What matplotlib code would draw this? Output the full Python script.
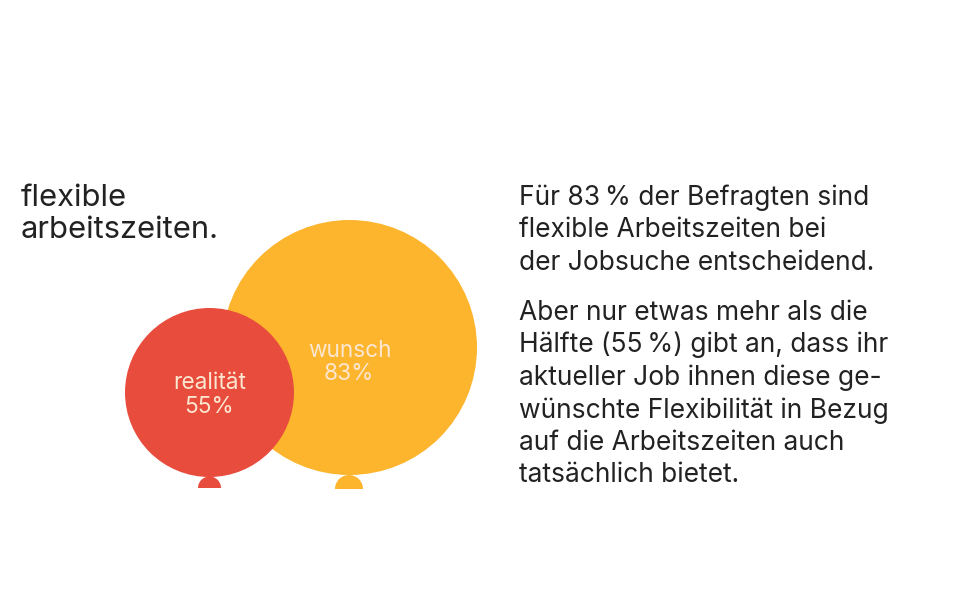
#!/usr/bin/env python3
"""Balloon chart: flexible Arbeitszeiten, wunsch vs realitaet."""
import matplotlib
matplotlib.use("Agg")
import matplotlib.pyplot as plt
from matplotlib.patches import Circle, Wedge

labels = ["wunsch", "realität"]
values = [83, 55]
colors = ["#FDB52E", "#E84C3D"]
# circle centres / radii in pixels, areas roughly follow the values
centers = [(349.5, 347.5), (209.5, 392.5)]
radii = [127.5, 84.5]
knots = [(349, 489, 14), (209.5, 488, 11.5)]
label_y = [(351, 374), (383, 407)]

title_lines = ["flexible", "arbeitszeiten."]
para1 = ["Für 83\u2009% der Befragten sind", "flexible Arbeitszeiten bei", "der Jobsuche entscheidend."]
para2 = ["Aber nur etwas mehr als die", "Hälfte (55\u2009%) gibt an, dass ihr", "aktueller Job ihnen diese ge-",
         "wünschte Flexibilität in Bezug", "auf die Arbeitszeiten auch", "tatsächlich bietet."]

plt.rcParams["font.family"] = ["Inter", "DejaVu Sans"]
fig = plt.figure(figsize=(9.6, 6.07), dpi=100)
ax = fig.add_axes([0, 0, 1, 1])
ax.set_xlim(0, 960)
ax.set_ylim(607, 0)
ax.set_aspect("equal")
ax.axis("off")

for (cx, cy), r, c, (kx, ky, kr) in zip(centers, radii, colors, knots):
    ax.add_patch(Wedge((kx, ky), kr, 180, 360, color=c, lw=0))
    ax.add_patch(Circle((cx, cy), r, color=c, lw=0))

for (cx, cy), lab, v, (y1, y2) in zip(centers, labels, values, label_y):
    ax.text(cx, y1, lab, color="#FBE6CF", fontsize=16.3, ha="center", va="center")
    ax.text(cx - 1, y2, f"{v}%", color="#FBE6CF", fontsize=16.3, ha="center", va="center")

for i, t in enumerate(title_lines):
    ax.text(21, 197.5 + i * 33, t, fontsize=22.3, color="#222222", va="center")
for i, t in enumerate(para1):
    ax.text(519, 197.5 + i * 32.5, t, fontsize=19, color="#222222", va="center")
for i, t in enumerate(para2):
    ax.text(519, 312.5 + i * 32.6, t, fontsize=19, color="#222222", va="center")

fig.savefig("out.png", dpi=100)
